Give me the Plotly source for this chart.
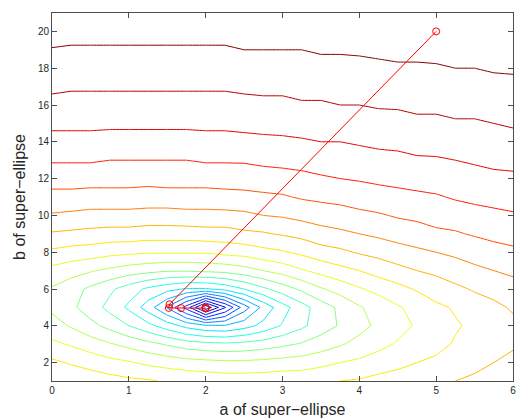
import plotly.graph_objects as go

# grid of the surface (a of super-ellipse, b of super-ellipse)
a_vals = [0, 0.25, 0.5, 0.75, 1, 1.25, 1.5, 1.75, 2, 2.25, 2.5, 2.75, 3,
          3.25, 3.5, 3.75, 4, 4.25, 4.5, 4.75, 5, 5.25, 5.5, 5.75, 6]
b_vals = list(range(1, 22))

# contour level (x10), one row per b value
z_levels = [
    [70, 68, 66, 64, 62, 61, 59, 58, 57, 56, 56, 56, 57, 57, 59, 60, 61, 63, 65, 67, 68, 70, 72, 74, 76],
    [62, 59, 56, 53, 51, 48, 46, 44, 43, 42, 42, 43, 44, 45, 47, 50, 52, 55, 57, 60, 62, 65, 67, 70, 72],
    [52, 49, 45, 41, 37, 33, 29, 25, 23, 22, 23, 25, 28, 31, 35, 39, 43, 47, 51, 54, 57, 61, 64, 66, 69],
    [44, 39, 33, 27, 20, 13, 5, -3, -8, -9, -4, 3, 11, 18, 25, 31, 37, 42, 47, 51, 55, 59, 62, 65, 68],
    [38, 32, 25, 17, 8, -5, -21, -44, -78, -51, -25, -7, 6, 16, 25, 32, 39, 44, 49, 53, 58, 61, 65, 68, 71],
    [39, 34, 28, 22, 15, 8, 3, -1, -1, 3, 10, 18, 25, 32, 39, 44, 49, 53, 57, 61, 65, 68, 71, 73, 76],
    [47, 44, 41, 38, 35, 33, 31, 31, 32, 33, 36, 40, 44, 49, 53, 57, 60, 64, 67, 70, 72, 75, 78, 80, 82],
    [58, 56, 55, 53, 52, 51, 51, 51, 51, 53, 54, 57, 59, 62, 66, 68, 71, 73, 76, 78, 80, 82, 84, 86, 88],
    [69, 68, 67, 66, 66, 65, 65, 65, 66, 66, 68, 69, 71, 73, 76, 78, 80, 82, 84, 86, 88, 89, 91, 93, 94],
    [79, 78, 77, 77, 77, 76, 76, 77, 77, 77, 78, 80, 81, 83, 85, 86, 88, 89, 91, 92, 94, 95, 97, 98, 99],
    [87, 87, 86, 86, 86, 86, 86, 86, 86, 87, 87, 88, 89, 91, 92, 93, 94, 96, 97, 98, 99, 101, 102, 103, 104],
    [94, 94, 94, 94, 94, 93, 94, 94, 94, 94, 95, 96, 96, 97, 99, 100, 101, 102, 103, 104, 105, 106, 107, 108, 108],
    [101, 101, 101, 100, 100, 100, 100, 100, 101, 101, 101, 102, 103, 104, 104, 105, 106, 107, 108, 109, 109, 110, 111, 112, 113],
    [107, 107, 107, 106, 106, 106, 106, 106, 107, 107, 107, 108, 108, 109, 110, 110, 111, 112, 112, 113, 114, 115, 115, 116, 117],
    [112, 112, 112, 112, 112, 112, 112, 112, 112, 112, 113, 113, 114, 114, 115, 115, 116, 116, 117, 118, 118, 119, 119, 120, 121],
    [117, 117, 117, 117, 117, 117, 117, 117, 117, 117, 117, 118, 118, 119, 119, 120, 120, 121, 121, 122, 122, 123, 123, 124, 124],
    [122, 121, 121, 121, 121, 121, 121, 121, 121, 121, 122, 122, 122, 123, 123, 124, 124, 124, 125, 125, 126, 126, 127, 127, 128],
    [126, 126, 126, 125, 125, 125, 125, 125, 125, 126, 126, 126, 126, 127, 127, 127, 128, 128, 129, 129, 129, 130, 130, 131, 131],
    [129.6, 129, 129, 129, 129, 129, 129, 129, 129, 129, 130, 130, 130, 130, 131, 131, 131, 132, 132, 132, 133, 133, 134, 134, 134],
    [133, 133, 133, 133, 133, 133, 133, 133, 133, 133, 133, 133, 134, 134, 134, 134, 135, 135, 135, 136, 136, 136, 137, 137, 138],
    [136, 136, 136, 136, 136, 136, 136, 136, 136, 136, 136, 137, 137, 137, 137, 138, 138, 138, 139, 139, 139, 139, 140, 140, 140],
]

# optimisation path (red)
path_a = [5.0, 1.53, 1.52, 1.68, 2.0, 2.0, 2.0]
path_b = [20.0, 5.17, 4.97, 4.96, 4.96, 4.97, 4.98]

x_ticks = [0, 1, 2, 3, 4, 5, 6]
y_ticks = [2, 4, 6, 8, 10, 12, 14, 16, 18, 20]

jet = [[0, 'rgb(0,0,143)'], [0.125, 'rgb(0,0,255)'], [0.375, 'rgb(0,255,255)'],
       [0.625, 'rgb(255,255,0)'], [0.875, 'rgb(255,0,0)'], [1, 'rgb(128,0,0)']]

fig = go.Figure()
fig.add_trace(go.Contour(x=a_vals, y=b_vals, z=z_levels, colorscale=jet, showscale=False,
                         contours=dict(coloring='lines', start=-70, end=130, size=10),
                         line=dict(width=1, smoothing=0), hoverinfo='skip'))
fig.add_trace(go.Scatter(x=path_a, y=path_b, mode='lines+markers',
                         line=dict(color='red', width=1),
                         marker=dict(symbol='circle-open', size=7, color='red', line=dict(width=1)),
                         showlegend=False, hoverinfo='skip'))
font_family = 'Liberation Sans, Arial, Helvetica, sans-serif'
axis_common = dict(showline=True, mirror='ticks', ticks='inside', ticklen=5, linecolor='#4d4d4d',
                   tickcolor='#4d4d4d', linewidth=1, showgrid=False, zeroline=False,
                   ticklabeloverflow='allow',
                   tickfont=dict(family=font_family, size=10, color='#262626'))
fig.update_xaxes(range=[0, 6], tickvals=x_ticks,
                 title=dict(text='a of super−ellipse', font=dict(family=font_family, size=16, color='#262626'), standoff=8),
                 **axis_common)
fig.update_yaxes(range=[1, 21], tickvals=y_ticks,
                 title=dict(text='b of super−ellipse', font=dict(family=font_family, size=16, color='#262626'), standoff=8),
                 **axis_common)
fig.update_layout(width=519, height=420, margin=dict(l=52, r=6, t=13, b=39, autoexpand=False),
                  plot_bgcolor='white', paper_bgcolor='white', showlegend=False)
fig.write_html('out.html', config={'displayModeBar': False},
               post_script="document.body.style.margin='0';")
